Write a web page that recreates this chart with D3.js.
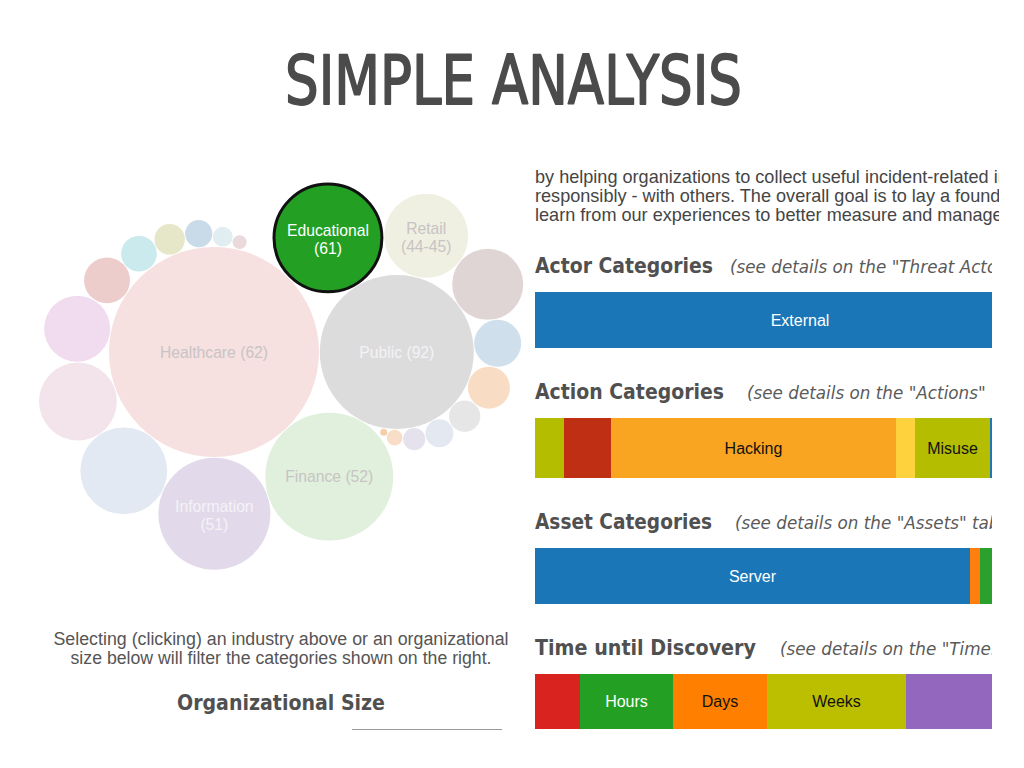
<!DOCTYPE html>
<html><head><meta charset="utf-8">
<script src="https://cdn.jsdelivr.net/npm/d3@7"></script>
<style>body{margin:0;background:#fff}svg{display:block}</style>
</head><body>
<svg id="c" width="1024" height="768"></svg>
<script>
// ---------------- DATA ----------------
const title = "SIMPLE ANALYSIS";
const industries = ["Healthcare (62)","Public (92)","Finance (52)","Information (51)","Educational (61)",
  "Professional (54)","Retail (44-45)","Manufacturing (31-33)","Accommodation (72)","Administrative (56)",
  "Transportation (48-49)","Other Services (81)","Real Estate (53)","Entertainment (71)","Unknown",
  "Construction (23)","Utilities (22)","Wholesale (42)","Management (55)","Mining (21)",
  "Agriculture (11)","Multiple","Other"];
const incidents = [900,484,334,256,251,154,144,124,103,89,45,43,36,26,20,19,16,15,10,8,5,4,1];
const selectedIndustry = "Educational (61)";

const introLines = [
  "by helping organizations to collect useful incident-related information and to share it - anonymously and",
  "responsibly - with others. The overall goal is to lay a foundation on which we can constructively and",
  "learn from our experiences to better measure and manage risk."
];
const helpLines = ["Selecting (clicking) an industry above or an organizational",
                   "size below will filter the categories shown on the right."];
const sizeTitle = "Organizational Size";

const sectionTitles = ["Actor Categories","Action Categories","Asset Categories","Time until Discovery"];
const sectionNotes = ['(see details on the "Threat Actors" tab)','(see details on the "Actions" tab)',
                      '(see details on the "Assets" tab)','(see details on the "Timeline" tab)'];
const actorCats = ["External"];
const actorVals = [530];
const actionCats = ["Error","Malware","Hacking","Social","Misuse","Physical"];
const actionVals = [29,47,285,19,75,75];
const assetCats = ["Server","User Dev","Media","Person","Kiosk","Network"];
const assetVals = [435,10,30,25,15,15];
const timeCats = ["Minutes","Hours","Days","Weeks","Months"];
const timeVals = [45,93,94,139,159];

// ---------------- STYLES ----------------
const bubbleFills = ["#f7e0e0","#dcdcdc","#e0f0dc","#e2daeb","#23a023",
  "#e3e9f2","#efefe2","#f3e4eb","#e0d5d5","#f0dcee",
  "#cfe0ec","#edcccc","#f8dcc4","#caeaee","#e6e6e6",
  "#e6e6c8","#e3e8f1","#c9dae8","#e6e2ed","#e0eef1",
  "#f8dec8","#eadadc","#f6ceaa"];
const bubbleTone = ["dark","light","dark","light","light","dark","dark","dark","dark","dark",
  "light","dark","dark","dark","dark","dark","dark","light","dark","dark","dark","dark","dark"];
const actorColors = ["#1b76b7"];
const actionColors = ["#b4bd00","#bf2f14","#f9a521","#fdd23c","#b4bd00","#1f77b4"];
const assetColors = ["#1b76b7","#ff7f0e","#2ca02c","#d62728","#9467bd","#8c564b"];
const timeColors = ["#d8231f","#23a023","#ff7f00","#bcbe00","#9467be"];

// ---------------- DRAW ----------------
const svg = d3.select("#c");
const sans = "'Liberation Sans', Arial, Helvetica, sans-serif";
const deja = "'DejaVu Sans', Verdana, sans-serif";

function textWidth(str, font, size, weight, style) {
  const t = svg.append("text").attr("font-family", font).attr("font-size", size)
    .attr("font-weight", weight || "normal").attr("font-style", style || "normal").text(str);
  const w = t.node().getComputedTextLength(); t.remove(); return w;
}

// Title
svg.append("text").attr("x", 513.5).attr("y", 104).attr("text-anchor", "middle")
  .attr("font-family", deja).attr("font-size", 67).attr("fill", "#4b4b4b")
  .attr("stroke", "#4b4b4b").attr("stroke-width", 1.8).attr("stroke-linejoin", "round")
  .attr("textLength", 457).attr("lengthAdjust", "spacingAndGlyphs").text(title);

// ---- Bubble chart: sorted by size, two hubs, the rest wrapped alternately around them ----
const rScale = d3.scaleSqrt().domain([0, d3.max(incidents)]).range([0, 105]);
const nodes = industries.map((name, i) => ({
  name, value: incidents[i], fill: bubbleFills[i], tone: bubbleTone[i], r: rScale(incidents[i])
})).sort((a, b) => d3.descending(a.value, b.value));

const gap = 0.8;
function wrap(pivot, prev, c) {
  const d1 = pivot.r + c.r + gap, d2 = prev.r + c.r + gap;
  const dx = prev.x - pivot.x, dy = prev.y - pivot.y, D = Math.hypot(dx, dy);
  const cosA = Math.max(-1, Math.min(1, (d1 * d1 + D * D - d2 * d2) / (2 * d1 * D)));
  const ang = Math.atan2(dy, dx) + Math.acos(cosA);
  c.x = pivot.x + d1 * Math.cos(ang);
  c.y = pivot.y + d1 * Math.sin(ang);
}
const hubA = nodes[0], hubB = nodes[1];
hubA.x = 0; hubA.y = 0; hubB.x = hubA.r + hubB.r + gap; hubB.y = 0;
wrap(hubA, hubB, nodes[2]);
let lastA = nodes[2], lastB = hubA;
for (let i = 3; i < nodes.length; i++) {
  if (i % 2 === 1) { wrap(hubA, lastA, nodes[i]); lastA = nodes[i]; }
  else { wrap(hubB, lastB, nodes[i]); lastB = nodes[i]; }
}

const bubbles = svg.append("g").attr("transform", "translate(214,352)");
const bn = bubbles.selectAll("g").data(nodes).join("g")
  .attr("transform", d => `translate(${d.x},${d.y})`);
bn.append("circle")
  .attr("r", d => d.name === selectedIndustry ? d.r - 1.5 : d.r)
  .attr("fill", d => d.fill)
  .attr("stroke", d => d.name === selectedIndustry ? "#111" : "none")
  .attr("stroke-width", 3);

const lblSize = 15.7;
bn.each(function(d) {
  const full = textWidth(d.name, sans, lblSize);
  const g = d3.select(this);
  const color = d.name === selectedIndustry ? "#ffffff" : (d.tone === "light" ? "#f4f2f6" : "#c8c4c4");
  if (full <= 2 * d.r * 0.9) {
    g.append("text").attr("text-anchor", "middle").attr("y", 5.5)
      .attr("font-family", sans).attr("font-size", lblSize).attr("fill", color).text(d.name);
    return;
  }
  const k = d.name.lastIndexOf(" (");
  if (k < 0) return;
  const lines = [d.name.slice(0, k), d.name.slice(k + 1)];
  const mw = d3.max(lines, s => textWidth(s, sans, lblSize));
  if (mw > 2 * d.r * 0.85) return;
  lines.forEach((s, j) => g.append("text").attr("text-anchor", "middle").attr("y", -2 + j * 18)
    .attr("font-family", sans).attr("font-size", lblSize).attr("fill", color).text(s));
});

// Help text + org size
const helpW = [455, 421];
helpLines.forEach((s, i) => svg.append("text").attr("x", 281).attr("y", 644.5 + i * 19.5)
  .attr("text-anchor", "middle").attr("font-family", sans).attr("font-size", 17.6)
  .attr("fill", "#555").attr("textLength", helpW[i]).attr("lengthAdjust", "spacingAndGlyphs").text(s));
svg.append("text").attr("x", 281).attr("y", 710).attr("text-anchor", "middle")
  .attr("font-family", deja).attr("font-weight", "bold").attr("font-size", 21)
  .attr("fill", "#505050").attr("textLength", 208).attr("lengthAdjust", "spacingAndGlyphs").text(sizeTitle);
svg.append("line").attr("x1", 352).attr("x2", 502).attr("y1", 729.5).attr("y2", 729.5)
  .attr("stroke", "#9a9a9a").attr("stroke-width", 1);

// ---- Right column ----
const defs = svg.append("defs");
defs.append("clipPath").attr("id", "clipP").append("rect").attr("x", 520).attr("y", 164).attr("width", 479).attr("height", 70);
defs.append("clipPath").attr("id", "clipS").append("rect").attr("x", 520).attr("y", 235).attr("width", 472).attr("height", 520);
const clipRight = 992;

const para = svg.append("g").attr("clip-path", "url(#clipP)");
introLines.forEach((s, i) => para.append("text").attr("x", 535).attr("y", 183 + i * 19)
  .attr("font-family", sans).attr("font-size", 18.1).attr("fill", "#454545").text(s));

const right = svg.append("g").attr("clip-path", "url(#clipS)");
const secData = [
  {cats: actorCats, vals: actorVals, colors: actorColors},
  {cats: actionCats, vals: actionVals, colors: actionColors},
  {cats: assetCats, vals: assetVals, colors: assetColors},
  {cats: timeCats, vals: timeVals, colors: timeColors}
];
const secLayout = [
  {base: 273, headW: 178, noteX: 730, barY: 292, barH: 56},
  {base: 399, headW: 189, noteX: 747, barY: 418, barH: 60},
  {base: 529, headW: 177, noteX: 735, barY: 548, barH: 56},
  {base: 655, headW: 221, noteX: 780, barY: 674, barH: 55}
];
const barX0 = 535, barX1 = 1065;

secData.forEach((sd, si) => {
  const L = secLayout[si];
  right.append("text").attr("x", 535).attr("y", L.base)
    .attr("font-family", deja).attr("font-weight", "bold").attr("font-size", 21.5)
    .attr("fill", "#505050").attr("textLength", L.headW).attr("lengthAdjust", "spacingAndGlyphs")
    .text(sectionTitles[si]);
  right.append("text").attr("x", L.noteX).attr("y", L.base)
    .attr("font-family", deja).attr("font-style", "italic").attr("font-size", 16.8)
    .attr("fill", "#5a5a5a").text(sectionNotes[si]);

  const x = d3.scaleLinear().domain([0, d3.sum(sd.vals)]).range([barX0, barX1]);
  let acc = 0;
  const segs = sd.cats.map((c, i) => {
    const s = {cat: c, v: sd.vals[i], color: sd.colors[i], x0: x(acc), x1: x(acc + sd.vals[i])};
    acc += sd.vals[i]; return s;
  });
  const bar = right.append("g");
  bar.selectAll("rect").data(segs).join("rect")
    .attr("x", d => d.x0).attr("y", L.barY).attr("width", d => d.x1 - d.x0).attr("height", L.barH)
    .attr("fill", d => d.color);
  segs.forEach(d => {
    const w = textWidth(d.cat, sans, 16);
    const cx = (d.x0 + d.x1) / 2;
    if (w + 8 > d.x1 - d.x0 || cx + w / 2 > clipRight) return;
    const txt = d3.lab(d.color).l > 62 ? "#111" : "#ffffff";
    bar.append("text").attr("x", cx).attr("y", L.barY + L.barH / 2 + 5.5).attr("text-anchor", "middle")
      .attr("font-family", sans).attr("font-size", 16).attr("fill", txt).text(d.cat);
  });
});
</script>
</body></html>
